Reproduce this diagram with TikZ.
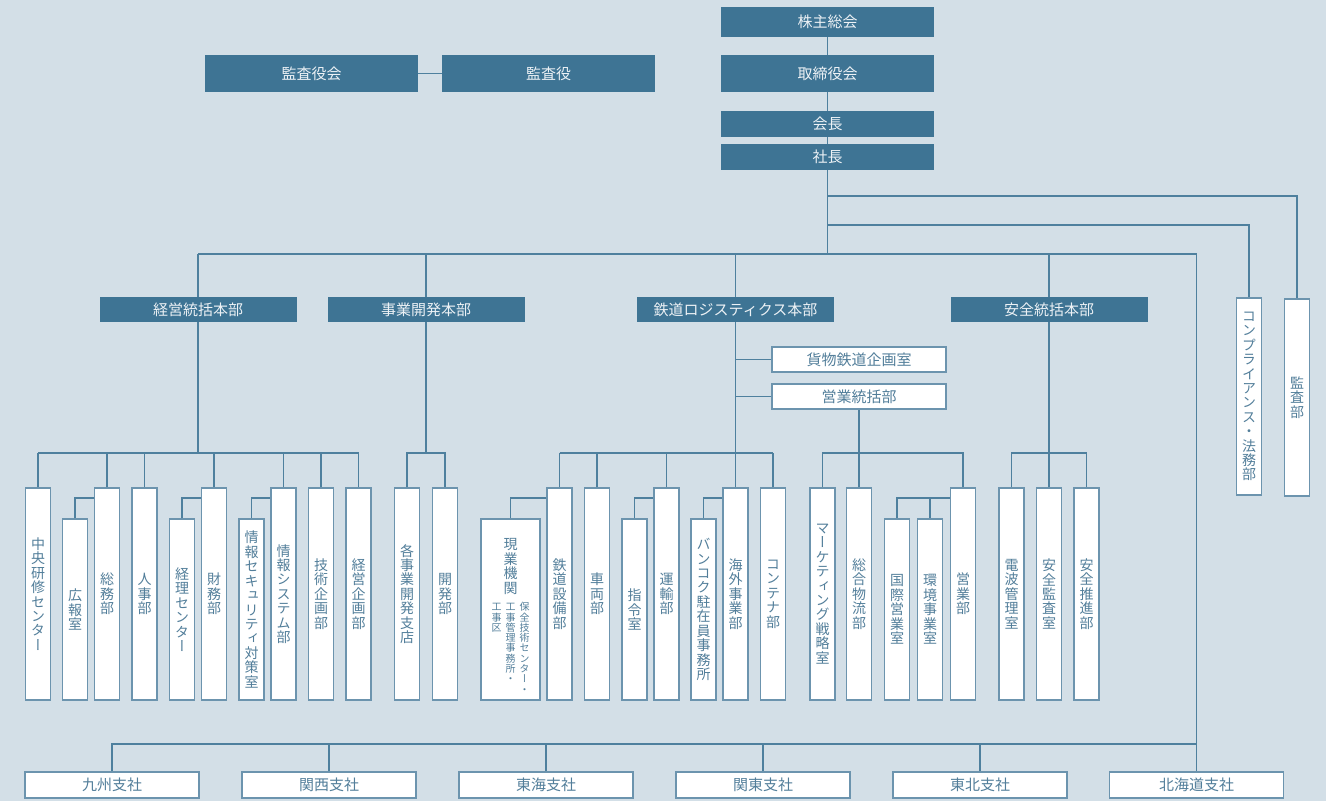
\documentclass[tikz,border=0pt]{standalone}
\usepackage{fontspec}
\setmainfont{Noto Sans CJK JP}
\newfontfamily\tatefont{Noto Sans CJK JP}[RawFeature=+vert]
\definecolor{bgcolor}{RGB}{211,223,231}
\definecolor{maincolor}{RGB}{62,116,148}
\definecolor{linecolor}{RGB}{78,128,158}
\definecolor{boxline}{RGB}{108,148,174}
\definecolor{textcolor}{RGB}{82,126,154}
\definecolor{lighttext}{RGB}{236,241,245}

% vertical (tategaki) column: one character per line
\makeatletter
\newcommand\tate[1]{\vtop{\baselineskip=1.03em\lineskiplimit=-20pt\lineskip=0pt
  \@tfor\tate@c:=#1\do{\hbox to 1em{\hss\tate@c\hss}}}}
\makeatother

\begin{document}
\begin{tikzpicture}[
  x=1pt, y=-1pt,
  board/.style={
    fill=maincolor,
    text=lighttext,
    minimum width=213pt,
    inner sep=0pt,
    font=\fontsize{15}{15}\selectfont
  },
  honbu/.style={
    fill=maincolor,
    text=lighttext,
    minimum width=197pt,
    minimum height=25pt,
    inner sep=0pt,
    font=\fontsize{15}{15}\selectfont
  },
  wide/.style={
    draw=boxline,
    fill=white,
    line width=1.4pt,
    text=textcolor,
    minimum width=174pt,
    minimum height=25pt,
    inner sep=0pt,
    font=\fontsize{15}{15}\selectfont
  },
  unit/.style={
    draw=boxline,
    fill=white,
    line width=1.4pt,
    text=textcolor,
    minimum width=25pt,
    minimum height=212pt,
    inner sep=0pt,
    font=\tatefont\fontsize{14}{14}\selectfont
  },
  subunit/.style={unit, minimum height=181pt},
  link/.style={draw=linecolor, line width=1.3pt}
]

% -------- Background --------
\fill[bgcolor] (0,0) rectangle (1326,801);

% -------- Levels --------
\coordinate (lvK) at (0,196);
\coordinate (lvL) at (0,225);
\coordinate (lvA) at (0,254);
\coordinate (lvB) at (0,453);
\coordinate (lvS) at (0,498);
\coordinate (lvC) at (0,744);

% -------- Top management --------
\node[board, minimum height=30pt] (kabunushi) at (827.5,22) {株主総会};
\node[board, minimum height=37pt] (torishimari) at (827.5,73.5) {取締役会};
\node[board, minimum height=26pt] (kaicho) at (827.5,124) {会長};
\node[board, minimum height=26pt] (shacho) at (827.5,157) {社長};
\node[board, minimum height=37pt] (kansayakukai) at (311.5,73.5) {監査役会};
\node[board, minimum height=37pt] (kansayaku) at (548.5,73.5) {監査役};

% -------- Headquarters --------
\node[honbu] (keiei) at (198,309.5) {経営統括本部};
\node[honbu] (jigyo) at (426,309.5) {事業開発本部};
\node[honbu] (tetsudo) at (735.5,309.5) {鉄道ロジスティクス本部};
\node[honbu] (anzen) at (1049,309.5) {安全統括本部};

\node[wide] (kamotsu) at (859,359.5) {貨物鉄道企画室};
\node[wide] (eigyotokatsu) at (859,396.5) {営業統括部};

\node[unit, minimum height=197pt] (compliance) at (1249,396.5) {\tate{コンプライアンス・法務部}};
\node[unit, minimum height=197pt] (kansabu) at (1297,397.5) {\tate{監査部}};

% -------- 経営統括本部 units --------
\node[unit] (chuo) at (38,594) {\tate{中央研修センター}};
\node[subunit] (koho) at (75,609.5) {\tate{広報室}};
\node[unit] (somu) at (107,594) {\tate{総務部}};
\node[unit] (jinji) at (144.5,594) {\tate{人事部}};
\node[subunit] (keiri) at (182,609.5) {\tate{経理センター}};
\node[unit] (zaimu) at (214,594) {\tate{財務部}};
\node[subunit] (johosec) at (251.5,609.5) {\tate{情報セキュリティ対策室}};
\node[unit] (johosys) at (283.5,594) {\tate{情報システム部}};
\node[unit] (gijutsu) at (321,594) {\tate{技術企画部}};
\node[unit] (keieikikaku) at (358.5,594) {\tate{経営企画部}};

% -------- 事業開発本部 units --------
\node[unit] (kakujigyo) at (407,594) {\tate{各事業開発支店}};
\node[unit] (kaihatsu) at (445,594) {\tate{開発部}};

% -------- 鉄道ロジスティクス本部 units --------
\node[subunit, minimum width=59pt] (genba) at (510.5,609.5) {};
\node[font=\tatefont\fontsize{14}{14}\selectfont, text=textcolor, align=center, inner sep=0pt]
  (genbalabel) at (510.5,616)
  {\tate{現業機関}\\[7pt]
   {\fontsize{10}{10}\selectfont\tate{工事区}\hskip4pt\tate{工事管理事務所・}\hskip4pt\tate{保全技術センター・}}};
\node[unit] (setsubi) at (559.5,594) {\tate{鉄道設備部}};
\node[unit] (sharyo) at (597,594) {\tate{車両部}};
\node[subunit] (shirei) at (634.5,609.5) {\tate{指令室}};
\node[unit] (unyu) at (666.5,594) {\tate{運輸部}};
\node[subunit] (bangkok) at (703.5,609.5) {\tate{バンコク駐在員事務所}};
\node[unit] (kaigai) at (735.5,594) {\tate{海外事業部}};
\node[unit] (container) at (773,594) {\tate{コンテナ部}};

\node[unit] (marketing) at (822.5,594) {\tate{マーケティング戦略室}};
\node[unit] (sogo) at (859,594) {\tate{総合物流部}};
\node[subunit] (kokusai) at (897,609.5) {\tate{国際営業室}};
\node[subunit] (kankyo) at (930,609.5) {\tate{環境事業室}};
\node[unit] (eigyobu) at (963,594) {\tate{営業部}};

% -------- 安全統括本部 units --------
\node[unit] (denpa) at (1011.5,594) {\tate{電波管理室}};
\node[unit] (anzenkansa) at (1049,594) {\tate{安全監査室}};
\node[unit] (suishin) at (1086.5,594) {\tate{安全推進部}};

% -------- Branches --------
\node[wide, minimum height=26pt] (kyushu) at (112,785) {九州支社};
\node[wide, minimum height=26pt] (kansai) at (329,785) {関西支社};
\node[wide, minimum height=26pt] (tokai) at (546,785) {東海支社};
\node[wide, minimum height=26pt] (kanto) at (763,785) {関東支社};
\node[wide, minimum height=26pt] (tohoku) at (980,785) {東北支社};
\node[wide, minimum height=26pt] (hokkaido) at (1196.5,785) {北海道支社};

% -------- Connectors: top --------
\draw[link] (kabunushi) -- (torishimari);
\draw[link] (torishimari) -- (kaicho);
\draw[link] (kaicho) -- (shacho);
\draw[link] (kansayakukai) -- (kansayaku);
\draw[link] (shacho.south) -- (shacho.south |- lvA);
\draw[link] (shacho.south |- lvK) -| (kansabu.north);
\draw[link] (shacho.south |- lvL) -| (compliance.north);
\draw[link] (keiei.north |- lvA) -- (hokkaido.north |- lvA) -- (hokkaido.north);
\draw[link] (keiei.north) -- (keiei.north |- lvA);
\draw[link] (jigyo.north) -- (jigyo.north |- lvA);
\draw[link] (tetsudo.north) -- (tetsudo.north |- lvA);
\draw[link] (anzen.north) -- (anzen.north |- lvA);

% -------- Connectors: 経営統括本部 --------
\draw[link] (keiei.south) -- (keiei.south |- lvB);
\draw[link] (chuo.north |- lvB) -- (keieikikaku.north |- lvB);
\draw[link] (chuo.north) -- (chuo.north |- lvB);
\draw[link] (somu.north) -- (somu.north |- lvB);
\draw[link] (jinji.north) -- (jinji.north |- lvB);
\draw[link] (zaimu.north) -- (zaimu.north |- lvB);
\draw[link] (johosys.north) -- (johosys.north |- lvB);
\draw[link] (gijutsu.north) -- (gijutsu.north |- lvB);
\draw[link] (keieikikaku.north) -- (keieikikaku.north |- lvB);
\draw[link] (koho.north) |- (somu.west |- lvS);
\draw[link] (keiri.north) |- (zaimu.west |- lvS);
\draw[link] (johosec.north) |- (johosys.west |- lvS);

% -------- Connectors: 事業開発本部 --------
\draw[link] (jigyo.south) -- (jigyo.south |- lvB);
\draw[link] (kakujigyo.north) |- (kaihatsu.north |- lvB) -- (kaihatsu.north);

% -------- Connectors: 鉄道ロジスティクス本部 --------
\draw[link] (tetsudo.south) -- (kaigai.north);
\draw[link] (tetsudo.south |- kamotsu.west) -- (kamotsu.west);
\draw[link] (tetsudo.south |- eigyotokatsu.west) -- (eigyotokatsu.west);
\draw[link] (setsubi.north |- lvB) -- (container.north |- lvB);
\draw[link] (setsubi.north) -- (setsubi.north |- lvB);
\draw[link] (sharyo.north) -- (sharyo.north |- lvB);
\draw[link] (unyu.north) -- (unyu.north |- lvB);
\draw[link] (container.north) -- (container.north |- lvB);
\draw[link] (genba.north) |- (setsubi.west |- lvS);
\draw[link] (shirei.north) |- (unyu.west |- lvS);
\draw[link] (bangkok.north) |- (kaigai.west |- lvS);

\draw[link] (eigyotokatsu.south) -- (eigyotokatsu.south |- lvB);
\draw[link] (marketing.north) |- (eigyobu.north |- lvB) -- (eigyobu.north);
\draw[link] (sogo.north) -- (sogo.north |- lvB);
\draw[link] (kokusai.north) |- (eigyobu.west |- lvS);
\draw[link] (kankyo.north) -- (kankyo.north |- lvS);

% -------- Connectors: 安全統括本部 --------
\draw[link] (anzen.south) -- (anzen.south |- lvB);
\draw[link] (denpa.north) |- (suishin.north |- lvB) -- (suishin.north);
\draw[link] (anzenkansa.north) -- (anzenkansa.north |- lvB);

% -------- Connectors: branches --------
\draw[link] (kyushu.north) |- (hokkaido.north |- lvC);
\draw[link] (kansai.north) -- (kansai.north |- lvC);
\draw[link] (tokai.north) -- (tokai.north |- lvC);
\draw[link] (kanto.north) -- (kanto.north |- lvC);
\draw[link] (tohoku.north) -- (tohoku.north |- lvC);

\end{tikzpicture}
\end{document}
